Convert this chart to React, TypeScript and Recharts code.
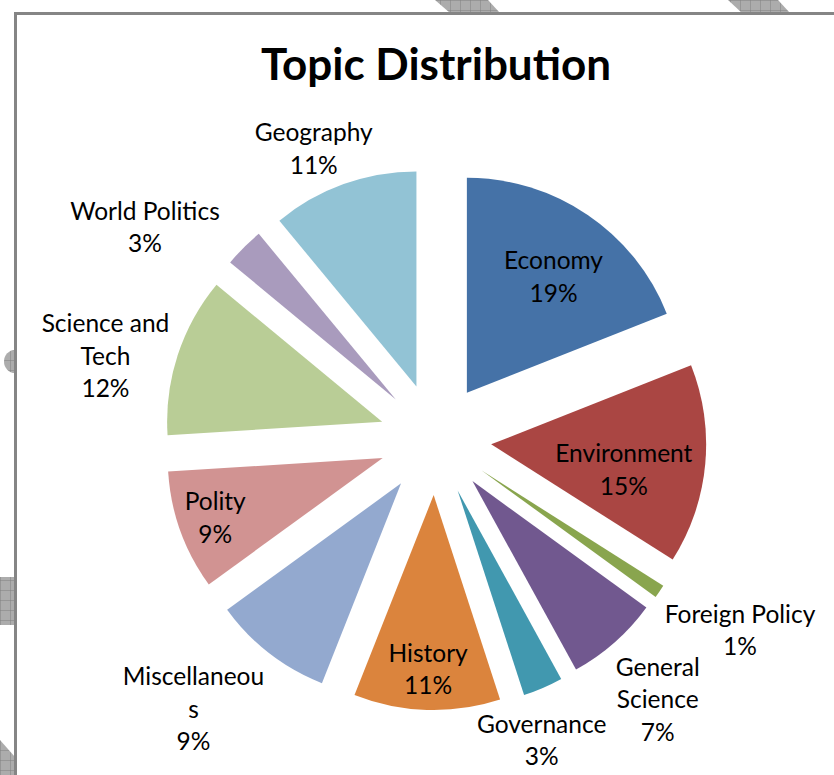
import { PieChart, Pie, Cell, Sector } from 'recharts';

// share of questions per topic, clockwise from 12 o'clock
const topics = [
  'Economy',
  'Environment',
  'Foreign Policy',
  'General Science',
  'Governance',
  'History',
  'Miscellaneous',
  'Polity',
  'Science and Tech',
  'World Politics',
  'Geography',
];
const shares = [19, 15, 1, 7, 3, 11, 9, 9, 12, 3, 11];
const colors = [
  '#4572A7',
  '#AA4643',
  '#89A54E',
  '#71588F',
  '#4198AF',
  '#DB843D',
  '#93A9CF',
  '#D19392',
  '#B9CD96',
  '#A99BBD',
  '#92C3D5',
];

// Excel wrapped these labels
const wrapped: Record<string, string[]> = {
  'Science and Tech': ['Science and', 'Tech'],
  Miscellaneous: ['Miscellaneou', 's'],
  'General Science': ['General', 'Science'],
};

// label placement: distance from pie centre and angle nudge (deg) off the slice middle
const labelDist = [200, 191, 360, 343, 320, 231, 363, 234, 340, 359, 314];
const labelShift = [2, 4, -2, 1, 4, 0, 4, 0, -4, -9, -3];

const data = topics.map((name, i) => ({ name, value: shares[i] }));

const W = 834;
const H = 775;
const EXPLODE = 56;
const RAD = Math.PI / 180;
const FONT = 'Lato, "Open Sans", sans-serif';

const ExplodedSlice = (props: any) => {
  const { cx, cy, midAngle } = props;
  const dx = EXPLODE * Math.cos(-midAngle * RAD);
  const dy = EXPLODE * Math.sin(-midAngle * RAD);
  return <Sector {...props} cx={cx + dx} cy={cy + dy} stroke="none" />;
};

const renderLabel = (props: any) => {
  const { cx, cy, midAngle, index, name, value } = props;
  const clock = 90 - midAngle + labelShift[index];
  const r = labelDist[index];
  const x = cx + r * Math.sin(clock * RAD);
  const y = cy - r * Math.cos(clock * RAD) - 2;
  const lines = [...(wrapped[name] ?? [name]), `${value}%`];
  const lh = 32.5;
  const y0 = y - ((lines.length - 1) * lh) / 2;
  return (
    <text
      key={`lbl-${index}`}
      x={x}
      y={y0}
      textAnchor="middle"
      dominantBaseline="central"
      fontFamily={FONT}
      fontSize={24.5}
      fill="#000"
    >
      {lines.map((t, i) => (
        <tspan key={i} x={x} y={y0 + i * lh}>
          {t}
        </tspan>
      ))}
    </text>
  );
};

function Backdrop() {
  return (
    <svg width={W} height={H} style={{ position: 'absolute', left: 0, top: 0 }}>
      <defs>
        <pattern id="hatch" width="10" height="10" patternUnits="userSpaceOnUse">
          <rect width="10" height="10" fill="#acacac" />
          <path d="M0 0H10M0 0V10" stroke="#808080" strokeWidth="1" />
        </pattern>
      </defs>
      <polygon points="435,0 488,0 500,13 450,13" fill="url(#hatch)" />
      <polygon points="728,0 778,0 790,13 742,13" fill="url(#hatch)" />
      <path d="M15 350 A 11 11.5 0 0 0 15 373 Z" fill="url(#hatch)" />
      <rect x="0" y="577" width="15" height="48" fill="url(#hatch)" />
      <polygon points="0,740 15,757 15,775 0,775" fill="url(#hatch)" />
      <rect x="14" y="12" width={W - 14} height="3" fill="#858585" />
      <rect x="14" y="12" width="3" height={H - 12} fill="#858585" />
    </svg>
  );
}

export default function App() {
  return (
    <div
      style={{
        position: 'absolute',
        left: 0,
        top: 0,
        width: W,
        height: H,
        background: '#fff',
        overflow: 'hidden',
      }}
    >
      <Backdrop />
      <svg width={W} height={H} style={{ position: 'absolute', left: 0, top: 0 }}>
        <text
          x={436}
          y={80}
          textAnchor="middle"
          fontFamily={FONT}
          fontWeight="bold"
          fontSize={44}
          fill="#000"
        >
          Topic Distribution
        </text>
      </svg>
      <div style={{ position: 'absolute', left: 0, top: 0 }}>
        <PieChart width={W} height={H} margin={{ top: 0, right: 0, bottom: 0, left: 0 }}>
          <Pie
            data={data}
            dataKey="value"
            nameKey="name"
            cx={435.4}
            cy={439.1}
            innerRadius={0}
            outerRadius={215}
            startAngle={90}
            endAngle={-270}
            paddingAngle={0}
            shape={ExplodedSlice}
            label={renderLabel}
            labelLine={false}
            isAnimationActive={false}
          >
            {data.map((d, i) => (
              <Cell key={d.name} fill={colors[i]} />
            ))}
          </Pie>
        </PieChart>
      </div>
    </div>
  );
}
